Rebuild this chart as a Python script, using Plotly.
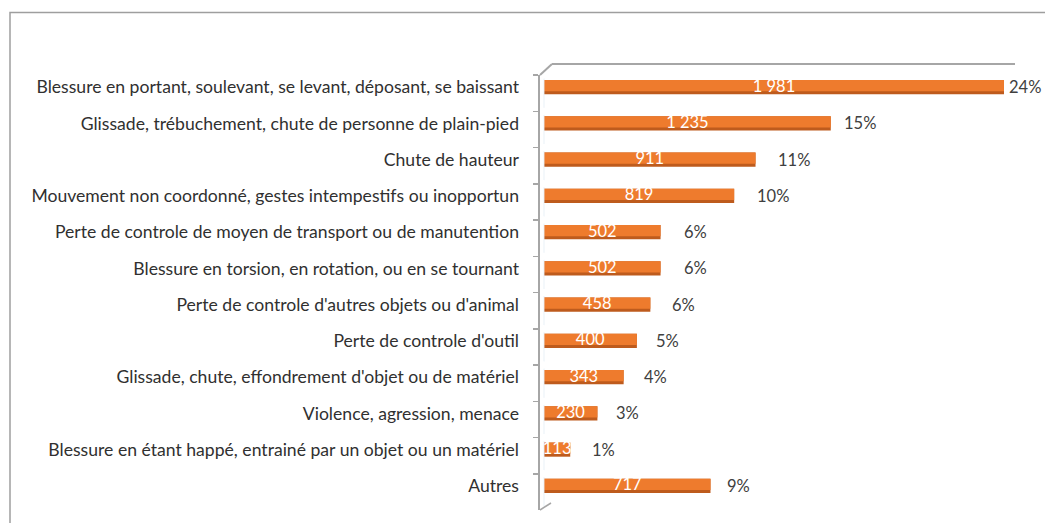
import plotly.graph_objects as go

categories = [
    "Blessure en portant, soulevant, se levant, déposant, se baissant",
    "Glissade, trébuchement, chute de personne de plain-pied",
    "Chute de hauteur",
    "Mouvement non coordonné, gestes intempestifs ou inopportun",
    "Perte de controle de moyen de transport ou de manutention",
    "Blessure en torsion, en rotation, ou en se tournant",
    "Perte de controle d'autres objets ou d'animal",
    "Perte de controle d'outil",
    "Glissade, chute, effondrement d'objet ou de matériel",
    "Violence, agression, menace",
    "Blessure en étant happé, entrainé par un objet ou un matériel",
    "Autres",
]
values = [1981, 1235, 911, 819, 502, 502, 458, 400, 343, 230, 113, 717]
percents = [24, 15, 11, 10, 6, 6, 6, 5, 4, 3, 1, 9]

# ---- layout geometry (pixels) ----
W, H = 1045, 523
L, R, T, B = 540, 30, 69, 13
pw = W - L - R
ph = H - T - B
scale = 0.2322               # px per unit
xmin = -4 / scale
xmax = xmin + pw / scale


def px(p):
    return (p - L) / pw


def py(q):
    return (H - B - q) / ph


FONT = "Lato"
LABEL_SIZE = 17.6
value_text = [f"{v:,}".replace(",", " ") for v in values]
pct_shift = [3, 11, 20, 21, 21, 21, 20, 17, 18, 17, 20, 15]

fig = go.Figure()
# darker base of the cylinder
fig.add_trace(go.Bar(
    y=categories, x=values, orientation="h",
    width=0.39, offset=-0.195,
    marker=dict(color="#BE5B1D", line=dict(width=0)),
    hoverinfo="skip", showlegend=False,
))
# lighter face
fig.add_trace(go.Bar(
    y=categories, x=values, orientation="h",
    width=0.31, offset=-0.195,
    marker=dict(color="#EE7B2D", line=dict(width=0)),
    text=value_text, textposition="inside", insidetextanchor="middle",
    constraintext="none",
    textfont=dict(family=FONT, size=16.5, color="white"),
    hoverinfo="skip", showlegend=False,
))
# invisible trace that carries the tick axis (ticks between categories)
fig.add_trace(go.Bar(
    y=categories, x=[0] * len(categories), orientation="h",
    xaxis="x", yaxis="y2", marker=dict(color="rgba(0,0,0,0)"),
    hoverinfo="skip", showlegend=False,
))

annotations = []
for c, v, p, s in zip(categories, values, percents, pct_shift):
    annotations.append(dict(
        x=v, y=c, xref="x", yref="y", xanchor="left", yanchor="middle",
        xshift=s, showarrow=False, text=f"{p}%",
        font=dict(family=FONT, size=16.5, color="#404040"),
    ))

gray = "#A6A6A6"
shapes = [
    # outer frame
    dict(type="rect", xref="paper", yref="paper",
         x0=px(10), x1=px(1070), y0=py(12.5), y1=py(560),
         line=dict(color="#9E9E9E", width=1.5), fillcolor="rgba(0,0,0,0)", layer="below"),
    # back wall top line
    dict(type="line", xref="paper", yref="paper",
         x0=px(552), x1=px(1015), y0=py(64), y1=py(64),
         line=dict(color=gray, width=2)),
    # top corner edge
    dict(type="line", xref="paper", yref="paper",
         x0=px(540), x1=px(552), y0=py(75), y1=py(64),
         line=dict(color=gray, width=2)),
    # bottom corner edge
    dict(type="line", xref="paper", yref="paper",
         x0=px(540), x1=px(551), y0=py(510), y1=py(503),
         line=dict(color=gray, width=1.5)),
]

fig.update_layout(
    width=W, height=H,
    margin=dict(l=L, r=R, t=T, b=B, autoexpand=False),
    paper_bgcolor="white", plot_bgcolor="rgba(0,0,0,0)",
    barmode="overlay",
    showlegend=False,
    font=dict(family=FONT, size=LABEL_SIZE, color="#303030"),
    xaxis=dict(range=[xmin, xmax], visible=False, showgrid=False, zeroline=False,
               fixedrange=True),
    yaxis=dict(domain=[py(504), 1], autorange="reversed", type="category",
               showline=False, ticks="", showgrid=False,
               ticklabelstandoff=20,
               tickfont=dict(family=FONT, size=LABEL_SIZE, color="#303030")),
    yaxis2=dict(domain=[0, py(75)], anchor="x", autorange="reversed", type="category",
                showline=True, linecolor=gray, linewidth=2,
                ticks="outside", ticklen=5, tickcolor=gray, tickwidth=1.5,
                tickson="boundaries", showticklabels=False, showgrid=False),
    annotations=annotations,
    shapes=shapes,
)

fig.write_html(
    "out.html",
    config={"displayModeBar": False, "staticPlot": True},
    post_script="document.body.style.margin='0';document.body.style.overflow='hidden';",
)
